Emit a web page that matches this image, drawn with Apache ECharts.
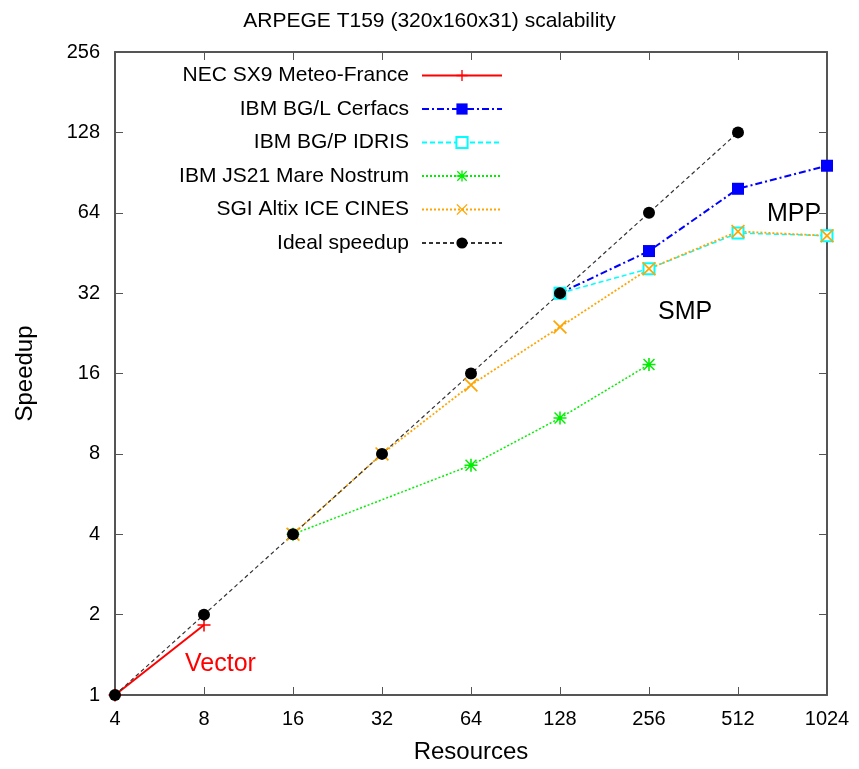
<!DOCTYPE html>
<html><head><meta charset="utf-8">
<script src="https://cdn.jsdelivr.net/npm/echarts@6/dist/echarts.min.js"></script>
<style>html,body{margin:0;padding:0;background:#fff}#c{width:859px;height:769px}</style>
</head><body><div id="c"></div>
<script>
const xTicks = [4, 8, 16, 32, 64, 128, 256, 512, 1024];
const yTicks = [1, 2, 4, 8, 16, 32, 64, 128, 256];

const necX = [4, 8];
const necY = [1, 1.83];
const bglX = [128, 256, 512, 1024];
const bglY = [32, 46, 78.7, 96];
const bgpX = [128, 256, 512, 1024];
const bgpY = [32, 39.5, 53.7, 52.5];
const jsX = [16, 64, 128, 256];
const jsY = [4, 7.25, 10.9, 17.3];
const sgiX = [16, 32, 64, 128, 256, 512, 1024];
const sgiY = [4, 8, 14.5, 23.9, 39.5, 54.5, 52.5];
const idealX = [4, 8, 16, 32, 64, 128, 256, 512];
const idealY = [1, 2, 4, 8, 16, 32, 64, 128];

const names = ['NEC SX9 Meteo-France', 'IBM BG/L Cerfacs', 'IBM BG/P IDRIS', 'IBM JS21 Mare Nostrum', 'SGI Altix ICE CINES', 'Ideal speedup'];

const pair = (xs, ys) => xs.map((x, i) => [x, ys[i]]);
const FONT = '"Liberation Sans", Arial, sans-serif';

const plusPath = 'path://M0,4.4L10,4.4L10,5.6L0,5.6Z M4.4,0L5.6,0L5.6,10L4.4,10Z';
const starPath = 'path://M0,4.4L10,4.4L10,5.6L0,5.6Z M4.4,0L5.6,0L5.6,10L4.4,10Z M1.2,0.4L9.6,8.8L8.8,9.6L0.4,1.2Z M8.8,0.4L9.6,1.2L1.2,9.6L0.4,8.8Z';
const xPath = 'path://M1.2,0.4L9.6,8.8L8.8,9.6L0.4,1.2Z M8.8,0.4L9.6,1.2L1.2,9.6L0.4,8.8Z';

const series = [
  {name: names[0], data: pair(necX, necY), color: '#ff0000', symbol: plusPath, symbolSize: 13, lineStyle: {width: 2, type: 'solid'}},
  {name: names[1], data: pair(bglX, bglY), color: '#0000ff', symbol: 'rect', symbolSize: 12, lineStyle: {width: 2, type: [7, 3, 2, 3]}},
  {name: names[2], data: pair(bgpX, bgpY), color: '#00ffff', symbol: 'emptyRect', symbolSize: 11, itemStyle: {borderWidth: 2}, lineStyle: {width: 1.5, type: [5, 3]}},
  {name: names[3], data: pair(jsX, jsY), color: '#00ee00', symbol: starPath, symbolSize: 13, lineStyle: {width: 1.5, type: [2, 2]}},
  {name: names[4], data: pair(sgiX, sgiY), color: '#ffa500', symbol: xPath, symbolSize: 14, lineStyle: {width: 1.8, type: [2, 2]}},
  {name: names[5], data: pair(idealX, idealY), color: '#000000', symbol: 'circle', symbolSize: 12, lineStyle: {width: 1.2, color: '#333', type: [4, 3]}}
].map(s => Object.assign({type: 'line', showSymbol: true, animation: false, xAxisIndex: 0, yAxisIndex: 0}, s));

const legends = names.map((n, i) => ({
  data: [n], right: 356, top: 65 + i * 33.5, align: 'right', orient: 'vertical',
  itemWidth: 80, itemHeight: 14, itemGap: 0, padding: 0, selectedMode: false,
  textStyle: {fontFamily: FONT, fontSize: 21, color: '#000', padding: [0, 8, 0, 0]}
}));

const axisCommon = {
  type: 'log', logBase: 2, interval: 1,
  axisLine: {show: true, lineStyle: {color: '#555', width: 2}},
  axisTick: {show: true, inside: true, length: 8, lineStyle: {color: '#555'}},
  splitLine: {show: false}
};

const option = {
  backgroundColor: '#fff',
  animation: false,
  title: {text: 'ARPEGE T159 (320x160x31) scalability', left: 'center', top: 6,
    textStyle: {fontFamily: FONT, fontSize: 21, fontWeight: 'normal', color: '#000'}},
  grid: {left: 115, right: 32, top: 52, bottom: 73},
  legend: legends,
  xAxis: [
    Object.assign({}, axisCommon, {position: 'bottom', min: 4, max: 1024, name: 'Resources', nameLocation: 'middle', nameGap: 45,
      nameTextStyle: {fontFamily: FONT, fontSize: 24, color: '#000'},
      axisLabel: {fontFamily: FONT, fontSize: 20, color: '#000', margin: 14, formatter: v => String(Math.round(v))}}),
    Object.assign({}, axisCommon, {position: 'top', min: 4, max: 1024, axisLabel: {show: false}})
  ],
  yAxis: [
    Object.assign({}, axisCommon, {position: 'left', min: 1, max: 256, name: 'Speedup', nameLocation: 'middle', nameGap: 78,
      nameTextStyle: {fontFamily: FONT, fontSize: 24, color: '#000'},
      axisLabel: {fontFamily: FONT, fontSize: 20, color: '#000', margin: 15, formatter: v => String(Math.round(v))}}),
    Object.assign({}, axisCommon, {position: 'right', min: 1, max: 256, axisLabel: {show: false}})
  ],
  graphic: [
    {type: 'text', left: 185, top: 652, style: {text: 'Vector', fill: '#ff0000', font: '25px ' + FONT}},
    {type: 'text', left: 658, top: 300, style: {text: 'SMP', fill: '#000', font: '25px ' + FONT}},
    {type: 'text', left: 767, top: 202, style: {text: 'MPP', fill: '#000', font: '25px ' + FONT}}
  ],
  series: series
};

const chart = echarts.init(document.getElementById('c'), null, {renderer: 'canvas'});
chart.setOption(option);
</script></body></html>
